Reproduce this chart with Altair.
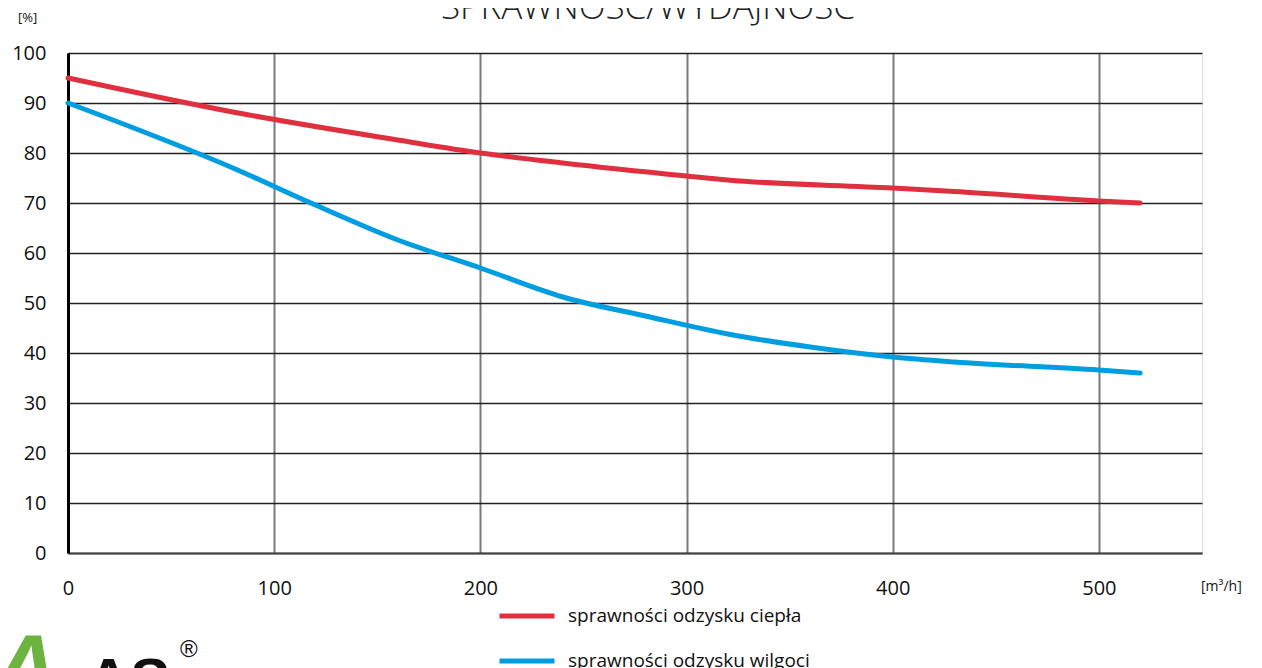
import altair as alt
import pandas as pd

# ---- data ----
x_heat = [0, 80, 160, 200, 240, 300, 320, 400, 430, 500, 520]
y_heat = [95, 88.2, 82.6, 80, 78, 75.4, 74.6, 73, 72.3, 70.4, 70]
x_moist = [0, 80, 120, 160, 200, 240, 280, 320, 360, 400, 430, 500, 520]
y_moist = [90, 77, 69.6, 62.6, 57, 51.2, 47.4, 43.8, 41.2, 39.2, 38.2, 36.6, 36]

label_heat = "sprawności odzysku ciepła"
label_moist = "sprawności odzysku wilgoci"
series_labels = [label_heat, label_moist]
series_colors = ["#E0303F", "#009EE0"]

x_ticks = [0, 100, 200, 300, 400, 500]
y_ticks = [0, 10, 20, 30, 40, 50, 60, 70, 80, 90, 100]
title_text = ["SPRAWNOŚĆ/WYDAJNOŚĆ"]
y_unit = ["[%]"]
x_unit = ["[m³/h]"]

FONT = "Open Sans"

rows = [{"x": a, "y": b, "s": label_heat} for a, b in zip(x_heat, y_heat)]
rows += [{"x": a, "y": b, "s": label_moist} for a, b in zip(x_moist, y_moist)]
df = pd.DataFrame(rows)

lines = alt.Chart(df).mark_line(
    strokeWidth=5, strokeCap="round", strokeJoin="round", interpolate="monotone"
).encode(
    x=alt.X("x:Q", scale=alt.Scale(domain=[0, 550], nice=False),
            axis=alt.Axis(values=x_ticks, title=None, grid=True,
                          gridColor="#7a7a7a", gridWidth=2,
                          domainColor="#444", domainWidth=2,
                          ticks=False, labelPadding=25, labelFontSize=20,
                          labelFont=FONT, labelColor="#111", labelFlush=False)),
    y=alt.Y("y:Q", scale=alt.Scale(domain=[0, 100], nice=False),
            axis=alt.Axis(values=y_ticks, title=None, grid=True,
                          gridColor="#222", gridWidth=1.5,
                          domainColor="#000", domainWidth=3,
                          ticks=False, labelPadding=22, labelFontSize=20,
                          labelFont=FONT, labelColor="#111")),
    color=alt.Color("s:N", scale=alt.Scale(domain=series_labels, range=series_colors),
                    sort=series_labels,
                    legend=alt.Legend(title=None, orient="none", legendX=429, legendY=533,
                                      symbolType="stroke", symbolSize=3025,
                                      symbolStrokeWidth=5, labelFontSize=19,
                                      labelFont=FONT, labelColor="#111", labelLimit=0,
                                      labelOffset=11, rowPadding=5, padding=0)),
    order="x:Q",
)

title = alt.Chart(pd.DataFrame({"t": title_text})).mark_text(
    font=FONT, fontSize=35, fontWeight=300, align="center", baseline="alphabetic",
    color="#222"
).encode(x=alt.value(580), y=alt.value(-34), text="t:N")

yunit = alt.Chart(pd.DataFrame({"t": y_unit})).mark_text(
    font=FONT, fontSize=13, align="left", baseline="middle", color="#111"
).encode(x=alt.value(-50), y=alt.value(-35), text="t:N")

xunit = alt.Chart(pd.DataFrame({"t": x_unit})).mark_text(
    font=FONT, fontSize=14, align="left", baseline="middle", color="#111"
).encode(x=alt.value(1133), y=alt.value(534), text="t:N")

logo_green = alt.Chart(pd.DataFrame({"t": ["A"]})).mark_text(
    font="Liberation Sans", fontSize=90, fontWeight="bold", fontStyle="italic",
    align="left", baseline="alphabetic", color="#6DB33F"
).encode(x=alt.value(-75), y=alt.value(645), text="t:N")

logo_black = alt.Chart(pd.DataFrame({"t": ["AS"]})).mark_text(
    font="Liberation Sans", fontSize=60, fontWeight="bold",
    align="left", baseline="alphabetic", color="#111"
).encode(x=alt.value(19), y=alt.value(647), text="t:N")

logo_r = alt.Chart(pd.DataFrame({"t": ["®"]})).mark_text(
    font="Liberation Sans", fontSize=24, align="left", baseline="alphabetic", color="#111"
).encode(x=alt.value(112), y=alt.value(604), text="t:N")

chart = alt.layer(lines, title, yunit, xunit, logo_green, logo_black, logo_r).properties(
    width=1134, height=500,
    autosize=alt.AutoSizeParams(type="none"),
    padding={"left": 60, "top": 45, "right": 52, "bottom": 115},
).configure_view(stroke="#7a7a7a", strokeWidth=2).configure(background="white")

chart.save("out.html", embed_options={"renderer": "svg", "actions": False})
